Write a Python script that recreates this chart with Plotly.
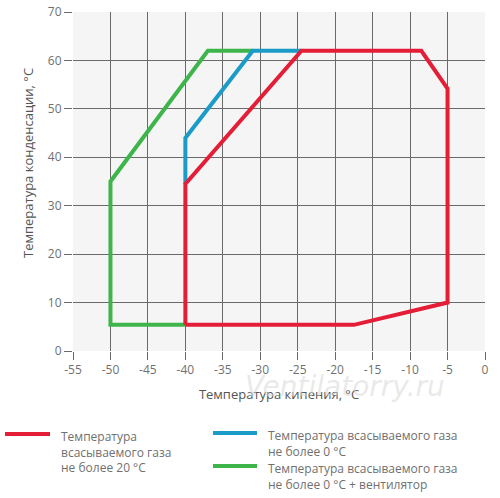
import plotly.graph_objects as go

# Data
red_x = [-40, -40, -24.5, -8.5, -5, -5, -17.5, -40]
red_y = [5.4, 34.5, 62, 62, 54.2, 10, 5.4, 5.4]
blue_x = [-40, -40, -31, -24.5]
blue_y = [34.5, 44, 62, 62]
green_x = [-40, -50, -50, -37, -31]
green_y = [5.4, 5.4, 35, 62, 62]

names = [
    "Температура<br>всасываемого газа<br>не более 20 °C",
    "Температура всасываемого газа<br>не более 0 °C",
    "Температура всасываемого газа<br>не более 0 °C + вентилятор",
]
colors = ["#e31e36", "#1b9bc8", "#3db54a"]

x_ticks = [-55, -50, -45, -40, -35, -30, -25, -20, -15, -10, -5, 0]
y_ticks = [0, 10, 20, 30, 40, 50, 60, 70]

FONT = "Open Sans"
W, H = 500, 498
L, R, T, B = 73, 15, 12, 147
PW, PH = W - L - R, H - T - B


def px(xp):
    return (xp - L) / PW


def py(yp):
    return (H - B - yp) / PH


fig = go.Figure()
fig.add_trace(go.Scatter(x=green_x, y=green_y, mode="lines", name=names[2],
                         line=dict(color=colors[2], width=4)))
fig.add_trace(go.Scatter(x=blue_x, y=blue_y, mode="lines", name=names[1],
                         line=dict(color=colors[1], width=4)))
fig.add_trace(go.Scatter(x=red_x, y=red_y, mode="lines", name=names[0],
                         line=dict(color=colors[0], width=4)))

axis_common = dict(
    showgrid=True, gridcolor="#6a6a6a", gridwidth=1,
    zeroline=False, showline=False,
    ticks="outside", ticklen=8, tickcolor="#6a6a6a", tickwidth=1,
    tickfont=dict(family=FONT, size=12, color="#707070"),
    automargin=False,
)

# Manual legend (sample line positions in pixels, text next to them)
legend_items = [
    (5, 50, 434, 59, 426),      # red
    (213, 257, 433, 266, 425),  # blue
    (213, 257, 466, 266, 458),  # green
]
shapes = []
annotations = []
for i, (x0, x1, ly, tx, ty) in enumerate(legend_items):
    shapes.append(dict(type="line", xref="paper", yref="paper",
                       x0=px(x0), x1=px(x1), y0=py(ly), y1=py(ly),
                       line=dict(color=colors[i], width=4)))
    annotations.append(dict(text=names[i], xref="paper", yref="paper",
                            x=px(tx), y=py(ty), xanchor="left", yanchor="top",
                            align="left", showarrow=False,
                            font=dict(family=FONT, size=12, color="#707070")))

annotations.append(dict(text="Температура конденсации, °C", textangle=-90,
                        xref="paper", yref="paper", x=px(28), y=py(163),
                        showarrow=False, xanchor="center", yanchor="middle",
                        font=dict(family=FONT, size=13, color="#555555")))
annotations.append(dict(text="Ventilatorry.ru", xref="paper", yref="paper",
                        x=px(345), y=py(386), showarrow=False,
                        xanchor="center", yanchor="middle",
                        font=dict(family="DejaVu Sans", size=28,
                                  color="rgba(215,215,215,0.55)", style="italic")))

fig.update_layout(
    width=W, height=H,
    autosize=False,
    margin=dict(l=L, r=R, t=T, b=B, pad=0),
    paper_bgcolor="white",
    plot_bgcolor="#f5f5f5",
    showlegend=False,
    font=dict(family=FONT, size=12, color="#707070"),
    xaxis=dict(range=[-55, 0], tickvals=x_ticks, ticktext=[str(v) for v in x_ticks],
               title=dict(text="Температура кипения, °C",
                          font=dict(family=FONT, size=13, color="#555555"),
                          standoff=12),
               **axis_common),
    yaxis=dict(range=[0, 70], tickvals=y_ticks, ticktext=[str(v) for v in y_ticks],
               **axis_common),
    shapes=shapes,
    annotations=annotations,
)

fig.write_html("out.html", config={"responsive": False, "displayModeBar": False},
               post_script="document.body.style.margin='0';")
